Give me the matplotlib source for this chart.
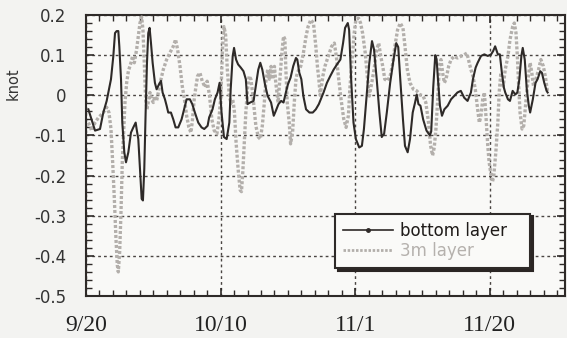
import matplotlib
matplotlib.use("Agg")
import matplotlib.pyplot as plt
from matplotlib.lines import Line2D
from matplotlib.ticker import MultipleLocator

# ---- data (days since 9/20, knot) ----
bottom_days = [0.35, 1.34, 2.08, 2.57, 3.07, 3.41, 3.71, 4.06, 4.31, 4.55, 4.8, 4.95, 5.2, 5.39, 5.69,
               5.94, 6.29, 6.68, 7.03, 7.38, 7.52, 7.77, 8.02, 8.27, 8.46, 8.66, 8.86, 9.06, 9.25, 9.45,
               9.65, 9.9, 10.24, 10.49, 10.84, 11.14, 11.38, 11.73, 11.98, 12.22, 12.62, 12.97, 13.31,
               13.71, 14.2, 14.7, 14.95, 15.44, 15.79, 16.18, 16.68, 17.17, 17.57, 18.07, 18.3, 18.8,
               19.15, 19.55, 19.85, 20.14, 20.5, 20.9, 21.3, 21.5, 21.8, 22.0, 22.3, 22.6, 23.0, 23.4,
               23.75, 24.0, 24.4, 24.9, 25.2, 25.6, 25.9, 26.2, 26.6, 27.0, 27.5, 27.9, 28.2, 28.6,
               29.0, 29.35, 29.7, 30.0, 30.4, 30.8, 31.2, 31.4, 31.7, 32.0, 32.3, 32.7, 33.2, 33.7,
               34.15, 34.6, 35.3, 35.8, 36.3, 36.8, 37.3, 37.8, 38.2, 38.5, 38.9, 39.1, 39.4, 39.75,
               40.1, 40.6, 41.0, 41.3, 41.7, 42.1, 42.5, 42.8, 43.2, 43.6, 43.95, 44.3, 44.7, 45.2,
               45.7, 46.1, 46.4, 46.7, 47.1, 47.4, 47.8, 48.15, 48.55, 48.9, 49.15, 49.4, 49.7, 50.1,
               50.6, 51.1, 51.3, 51.6, 51.9, 52.1, 52.3, 52.6, 52.9, 53.25, 53.75, 54.25, 54.7, 55.2,
               55.7, 56.2, 56.7, 57.2, 57.5, 57.9, 58.2, 58.7, 59.2, 59.7, 60.2, 60.5, 60.8, 61.2,
               61.5, 61.8, 62.1, 62.3, 62.7, 63.0, 63.4, 63.8, 64.1, 64.4, 64.7, 64.9, 65.2, 65.5,
               65.8, 66.0, 66.4, 66.8, 67.1, 67.5, 67.75, 68.1, 68.45, 68.6]
bottom_vals = [-0.035, -0.088, -0.084, -0.043, -0.014, 0.015, 0.04, 0.098, 0.155, 0.16, 0.16, 0.122,
               0.04, -0.068, -0.142, -0.167, -0.142, -0.093, -0.08, -0.068, -0.084, -0.109, -0.183,
               -0.258, -0.262, -0.183, -0.043, 0.081, 0.155, 0.168, 0.131, 0.081, 0.031, 0.015, 0.027,
               0.036, 0.007, -0.01, -0.026, -0.043, -0.043, -0.06, -0.08, -0.08, -0.06, -0.026, -0.01,
               -0.01, -0.022, -0.043, -0.068, -0.08, -0.084, -0.076, -0.055, -0.035, -0.01, 0.007,
               0.031, -0.043, -0.104, -0.109, -0.068, 0.015, 0.098, 0.118, 0.089, 0.077, 0.069, 0.06,
               0.04, -0.022, -0.018, -0.014, 0.019, 0.064, 0.081, 0.064, 0.027, -0.002, -0.018, -0.051,
               -0.039, -0.022, -0.014, -0.018, 0.007, 0.027, 0.044, 0.073, 0.093, 0.089, 0.056, 0.04,
               -0.002, -0.035, -0.043, -0.043, -0.035, -0.022, 0.007, 0.031, 0.048, 0.064, 0.077,
               0.089, 0.13, 0.168, 0.18, 0.163, 0.04, -0.068, -0.109, -0.13, -0.126, -0.084, -0.002,
               0.081, 0.135, 0.114, 0.04, -0.043, -0.104, -0.096, -0.043, 0.031, 0.089, 0.13, 0.12,
               0.04, -0.06, -0.126, -0.142, -0.109, -0.043, -0.018, 0.002, -0.022, -0.026, -0.06,
               -0.088, -0.1, -0.09, 0.02, 0.1, 0.09, 0.04, -0.026, -0.051, -0.035, -0.026, -0.01,
               -0.002, 0.007, 0.011, -0.006, -0.014, 0.007, 0.04, 0.069, 0.081, 0.098, 0.102, 0.098,
               0.102, 0.11, 0.122, 0.102, 0.102, 0.056, 0.019, 0.007, -0.01, -0.014, 0.011, 0.002,
               0.007, 0.04, 0.098, 0.118, 0.089, 0.015, -0.026, -0.043, -0.01, 0.031, 0.04, 0.06,
               0.056, 0.031, 0.011, 0.007]

layer3m_days = [0.35, 0.84, 1.34, 1.83, 2.57, 3.07, 3.41, 3.71, 3.96, 4.21, 4.45, 4.65, 4.8, 5.0, 5.2,
                5.39, 5.59, 5.79, 6.04, 6.29, 6.68, 6.93, 7.18, 7.52, 7.77, 8.02, 8.27, 8.46, 8.66,
                8.86, 9.06, 9.25, 9.5, 9.75, 10.0, 10.24, 10.49, 10.74, 11.14, 11.48, 11.98, 12.47,
                12.97, 13.31, 13.61, 13.96, 14.3, 14.7, 14.95, 15.29, 15.59, 15.79, 16.08, 16.28,
                16.58, 16.93, 17.27, 17.7, 18.0, 18.35, 18.7, 19.05, 19.45, 19.75, 20.04, 20.3, 20.5,
                20.75, 21.0, 21.3, 21.55, 21.8, 22.05, 22.3, 22.6, 22.9, 23.1, 23.3, 23.5, 23.75, 24.0,
                24.25, 24.5, 24.75, 25.0, 25.24, 25.6, 25.9, 26.2, 26.5, 26.7, 27.0, 27.25, 27.5,
                27.75, 28.0, 28.2, 28.55, 28.85, 29.1, 29.35, 29.55, 29.7, 29.9, 30.2, 30.4, 30.7,
                30.95, 31.2, 31.4, 31.65, 31.9, 32.3, 32.7, 33.0, 33.4, 33.8, 34.15, 34.4, 34.6, 34.8,
                35.2, 35.5, 36.0, 36.5, 36.9, 37.2, 37.5, 37.9, 38.3, 38.65, 39.0, 39.2, 39.5, 39.85,
                40.1, 40.5, 40.8, 41.1, 41.5, 41.8, 42.1, 42.45, 42.8, 43.2, 43.5, 43.8, 44.1, 44.4,
                44.8, 45.2, 45.6, 45.9, 46.3, 46.7, 47.1, 47.4, 47.75, 48.15, 48.65, 49.15, 49.6,
                50.1, 50.5, 50.9, 51.2, 51.5, 51.75, 52.0, 52.3, 52.5, 52.75, 53.0, 53.25, 53.5, 53.9,
                54.25, 54.7, 55.2, 55.7, 56.2, 56.6, 56.9, 57.2, 57.5, 57.85, 58.2, 58.45, 58.7,
                58.95, 59.2, 59.4, 59.7, 59.9, 60.2, 60.4, 60.6, 60.9, 61.2, 61.4, 61.65, 62.0, 62.3,
                62.7, 63.0, 63.4, 63.65, 63.9, 64.1, 64.3, 64.5, 64.8, 65.05, 65.4, 65.75, 66.0,
                66.25, 66.5, 66.85, 67.25, 67.6, 67.95, 68.25, 68.6]
layer3m_vals = [-0.068, -0.088, -0.068, -0.056, -0.043, -0.03, -0.043, -0.084, -0.167, -0.258, -0.357,
                -0.423, -0.44, -0.39, -0.29, -0.167, -0.093, -0.018, 0.031, 0.06, 0.081, 0.098, 0.081,
                0.114, 0.147, 0.18, 0.195, 0.163, 0.081, -0.01, -0.035, -0.016, 0.007, -0.01, -0.018,
                -0.002, -0.014, 0.007, 0.04, 0.064, 0.089, 0.106, 0.122, 0.139, 0.114, 0.073, 0.023,
                -0.018, -0.051, -0.08, -0.093, -0.066, -0.01, 0.015, 0.048, 0.056, 0.035, 0.02, 0.035,
                0.0, -0.06, -0.088, -0.096, -0.06, -0.002, 0.122, 0.171, 0.15, 0.064, -0.002, -0.02,
                -0.01, -0.04, -0.117, -0.183, -0.236, -0.24, -0.191, -0.125, -0.043, 0.015, 0.048,
                0.04, 0.007, -0.035, -0.076, -0.104, -0.109, -0.076, -0.018, 0.031, 0.064, 0.04,
                0.072, 0.04, 0.072, 0.031, -0.018, 0.048, 0.105, 0.147, 0.14, 0.064, -0.018, -0.068,
                -0.121, -0.092, -0.018, 0.04, 0.056, 0.064, 0.072, 0.105, 0.147, 0.171, 0.188, 0.18,
                0.122, 0.07, 0.04, 0.0, 0.048, 0.072, 0.097, 0.122, 0.13, 0.097, 0.048, -0.01, -0.059,
                -0.08, -0.05, 0.015, 0.081, 0.155, 0.188, 0.192, 0.18, 0.155, 0.105, 0.048, -0.002,
                0.03, 0.064, 0.114, 0.13, 0.097, 0.072, 0.04, 0.036, 0.048, 0.081, 0.122, 0.163, 0.18,
                0.168, 0.122, 0.064, 0.031, 0.015, 0.011, 0.002, -0.002, -0.018, -0.068, -0.125,
                -0.15, -0.13, -0.084, -0.002, 0.073, 0.089, 0.056, 0.031, 0.04, 0.073, 0.089, 0.097,
                0.093, 0.097, 0.101, 0.105, 0.085, 0.064, 0.048, 0.015, -0.035, -0.068, -0.05, -0.01,
                0.007, -0.043, -0.125, -0.166, -0.2, -0.216, -0.2, -0.142, -0.068, 0.007, 0.056,
                0.023, 0.064, 0.097, 0.138, 0.171, 0.18, 0.155, 0.097, 0.023, -0.043, -0.084, -0.076,
                -0.01, 0.048, 0.081, 0.056, 0.023, 0.04, 0.064, 0.089, 0.073, 0.048, 0.007]

x_tick_pos = [0, 20, 40, 60]
x_tick_labels = ["9/20", "10/10", "11/1", "11/20"]
y_ticks = [0.2, 0.1, 0, -0.1, -0.2, -0.3, -0.4, -0.5]
y_tick_labels = ["0.2", "0.1", "0", "-0.1", "-0.2", "-0.3", "-0.4", "-0.5"]
series_names = ["bottom layer", "3m layer"]

# ---- figure ----
fig = plt.figure(figsize=(5.67, 3.38), dpi=100, facecolor="#f3f3f1")
ax = fig.add_axes([0.1517, 0.1243, 0.845, 0.8313])
ax.set_facecolor("#f9f9f7")

dark = "#2e2a28"
grey = "#b3afab"

ax.plot(layer3m_days, layer3m_vals, color=grey, lw=2.4, ls=(0, (0.9, 0.6)),
        solid_capstyle="butt", zorder=3)
ax.plot(bottom_days, bottom_vals, color=dark, lw=1.5, zorder=4)

ax.set_xlim(0, 71.2)
ax.set_ylim(-0.5, 0.2)

ax.set_xticks(x_tick_pos)
ax.set_xticklabels(x_tick_labels, family="Liberation Serif", fontsize=17, color="#222")
ax.xaxis.set_minor_locator(MultipleLocator(2))
ax.set_yticks(y_ticks)
ax.set_yticklabels(y_tick_labels, family="DejaVu Sans", fontsize=12, color="#333")
ax.yaxis.set_minor_locator(MultipleLocator(0.02))

ax.tick_params(which="both", direction="in", top=True, right=True, color=dark)
ax.tick_params(which="major", length=6, width=1.2)
ax.tick_params(which="minor", length=4, width=1.0)
ax.tick_params(axis="y", which="major", pad=14)
ax.tick_params(axis="x", which="major", pad=14)

for s in ax.spines.values():
    s.set_color(dark)
    s.set_linewidth(1.5)

ax.grid(True, which="major", color="#4a4542", lw=1.0, ls=(0, (2, 2.2)), zorder=1)

ax.set_ylabel("knot", fontsize=10.5, color="#333")
ax.yaxis.set_label_coords(-0.136, 0.755)

handles = [
    Line2D([0], [0], color=dark, lw=1.2, marker="o", ms=2.5),
    Line2D([0], [0], color=grey, lw=2.0, ls=(0, (0.9, 0.6))),
]
leg = ax.legend(handles, series_names, loc="lower left", bbox_to_anchor=(0.52, 0.1, 0.407, 0.224),
                mode="expand", fontsize=12, handlelength=3.0, numpoints=1, frameon=True,
                fancybox=False, shadow={"color": "#2b2624", "alpha": 1.0}, borderpad=0.5,
                labelspacing=0.1, handletextpad=0.4, borderaxespad=0)
leg.get_frame().set_edgecolor(dark)
leg.get_frame().set_linewidth(1.5)
leg.get_frame().set_facecolor("#fafaf8")
leg.get_texts()[0].set_color("#1f1b19")
leg.get_texts()[1].set_color("#b5b1ad")

fig.savefig("out.png", dpi=100, facecolor=fig.get_facecolor())
